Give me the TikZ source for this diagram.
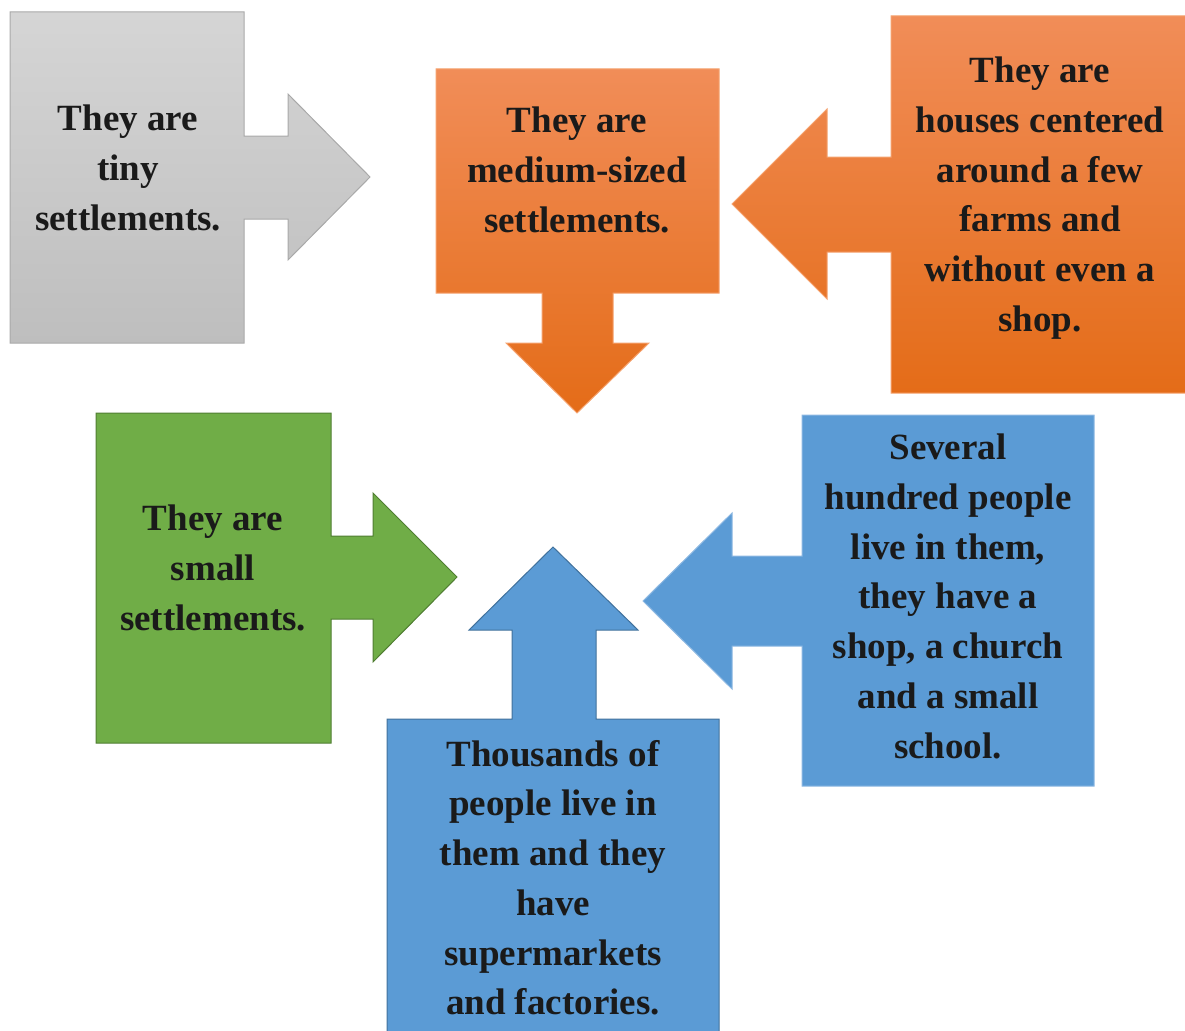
\documentclass[tikz,border=0pt]{standalone}
\usepackage{fontspec}
\setmainfont{Liberation Serif}
\definecolor{txt}{HTML}{1A1A1A}
\definecolor{grayT}{HTML}{D5D5D5}
\definecolor{grayB}{HTML}{BEBEBE}
\definecolor{grayL}{HTML}{A9A9A9}
\definecolor{orT}{HTML}{F18D58}
\definecolor{orM}{HTML}{F47C2E}
\definecolor{orB}{HTML}{E46C18}
\definecolor{orL}{HTML}{F5A26E}
\definecolor{grn}{HTML}{70AD47}
\definecolor{grnL}{HTML}{507E32}
\definecolor{blu}{HTML}{5B9BD5}
\definecolor{bluL}{HTML}{41719C}
\definecolor{bluLL}{HTML}{8DB8E2}
\tikzset{
  lbl/.style={anchor=north, inner sep=0pt, align=center, text=txt,
    font=\fontsize{37}{49.7}\selectfont\bfseries},
  shp/.style={line width=1pt, line join=miter}
}
\begin{document}
\begin{tikzpicture}[x=1pt,y=-1pt]
\useasboundingbox (0,0) rectangle (1185,1030);
% gray
\shade[shp, draw=grayL, top color=grayT, bottom color=grayB]
 (10,12)--(244,12)--(244,136)--(288,136)--(288,94)--(370,177)--(288,260)--(288,219)--(244,219)--(244,343)--(10,343)--cycle;
% orange middle
\shade[shp, draw=orL, top color=orT, middle color=orM, bottom color=orB]
 (436,69)--(719,69)--(719,293)--(613,293)--(613,343)--(649,343)--(577,413)--(506,343)--(542,343)--(542,293)--(436,293)--cycle;
% orange right
\shade[shp, draw=orL, top color=orT, middle color=orM, bottom color=orB]
 (891,16)--(1187,16)--(1187,393)--(891,393)--(891,252)--(827,252)--(827,299)--(732,204)--(827,109)--(827,157)--(891,157)--cycle;
% green
\fill[shp, draw=grnL, fill=grn]
 (96,413)--(331,413)--(331,536)--(373,536)--(373,493)--(457,577)--(373,662)--(373,619)--(331,619)--(331,743)--(96,743)--cycle;
% blue bottom
\fill[shp, draw=bluL, fill=blu]
 (387,1036)--(387,719)--(512,719)--(512,630)--(469,630)--(553,547)--(638,630)--(596,630)--(596,719)--(719,719)--(719,1036)--cycle;
% blue right
\fill[shp, draw=bluLL, fill=blu]
 (802,415)--(1094,415)--(1094,786)--(802,786)--(802,646)--(732,646)--(732,689)--(643,601)--(732,513)--(732,556)--(802,556)--cycle;
% texts
\node[lbl] (tiny) at (128,105) {They are\\tiny\\settlements.};
\node[lbl] (medium) at (577,107) {They are\\medium-sized\\settlements.};
\node[lbl] (houses) at (1040,57) {They are\\houses centered\\around a few\\farms and\\without even a\\shop.};
\node[lbl] (small) at (213,505) {They are\\small\\settlements.};
\node[lbl] (thousands) at (553,740) {Thousands of\\people live in\\them and they\\have\\supermarkets\\and factories.};
\node[lbl] (several) at (948,434) {Several\\hundred people\\live in them,\\they have a\\shop, a church\\and a small\\school.};
\end{tikzpicture}
\end{document}
